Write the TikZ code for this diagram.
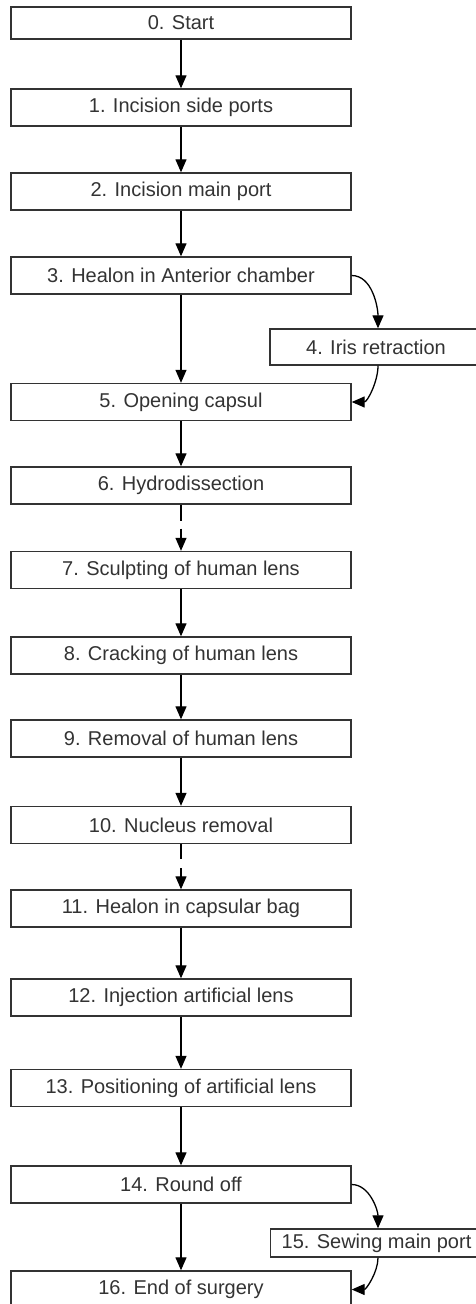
\documentclass[tikz,border=0pt]{standalone}
\usepackage{fontspec}
\setmainfont{Liberation Sans}
\usetikzlibrary{arrows.meta}
\begin{document}
\begin{tikzpicture}[x=1pt,y=-1pt,
  box/.style={draw=black!80,line width=1.4pt,fill=white,minimum width=340pt,minimum height=37pt,inner sep=0pt,
    text=black!80,font=\fontsize{20}{24}\selectfont},
  sidebox/.style={box,minimum width=212pt},
  arr/.style={line width=1.3pt,-{Triangle[width=11pt,length=13pt]}},
  brk/.style={arr,dash pattern=on 16pt off 8pt on 60pt}]
\useasboundingbox (0,0) rectangle (476,1304);
\clip (0,0) rectangle (476,1304);
\node[box,minimum height=32pt] (n0) at (181,23) {0. Start};
\node[box] (n1) at (181,107.5) {1. Incision side ports};
\node[box] (n2) at (181,191.5) {2. Incision main port};
\node[box] (n3) at (181,275.5) {3. Healon in Anterior chamber};
\node[sidebox,minimum height=36pt] (n4) at (376,347) {4. Iris retraction};
\node[box] (n5) at (181,402) {5. Opening capsul};
\node[box] (n6) at (181,485.5) {6. Hydrodissection};
\node[box] (n7) at (181,570) {7. Sculpting of human lens};
\node[box] (n8) at (181,655.5) {8. Cracking of human lens};
\node[box] (n9) at (181,738.5) {9. Removal of human lens};
\node[box] (n10) at (181,825) {10. Nucleus removal};
\node[box] (n11) at (181,908.5) {11. Healon in capsular bag};
\node[box] (n12) at (181,997.5) {12. Injection artificial lens};
\node[box] (n13) at (181,1088) {13. Positioning of artificial lens};
\node[box] (n14) at (181,1184.5) {14. Round off};
\node[sidebox,minimum height=28pt] (n15) at (376.5,1243) {15. Sewing main port};
\node[box] (n16) at (181,1289.5) {16. End of surgery};
\draw[arr] (n0) -- (n1);
\draw[arr] (n1) -- (n2);
\draw[arr] (n2) -- (n3);
\draw[arr] (n3) -- (n5);
\draw[arr] (n3.east) to[out=0,in=90,looseness=0.9] ([xshift=2pt]n4.north);
\draw[arr] ([xshift=2pt]n4.south) to[out=-90,in=0,looseness=0.9] (n5.east);
\draw[arr] (n5) -- (n6);
\draw[brk] (n6) -- (n7);
\draw[arr] (n7) -- (n8);
\draw[arr] (n8) -- (n9);
\draw[arr] (n9) -- (n10);
\draw[brk,dash pattern=on 15pt off 9pt on 60pt] (n10) -- (n11);
\draw[arr] (n11) -- (n12);
\draw[arr] (n12) -- (n13);
\draw[arr] (n13) -- (n14);
\draw[arr] (n14) -- (n16);
\draw[arr] (n14.east) to[out=0,in=90,looseness=0.9] ([xshift=1.5pt]n15.north);
\draw[arr] ([xshift=1.5pt]n15.south) to[out=-90,in=0,looseness=0.9] (n16.east);
\end{tikzpicture}
\end{document}
